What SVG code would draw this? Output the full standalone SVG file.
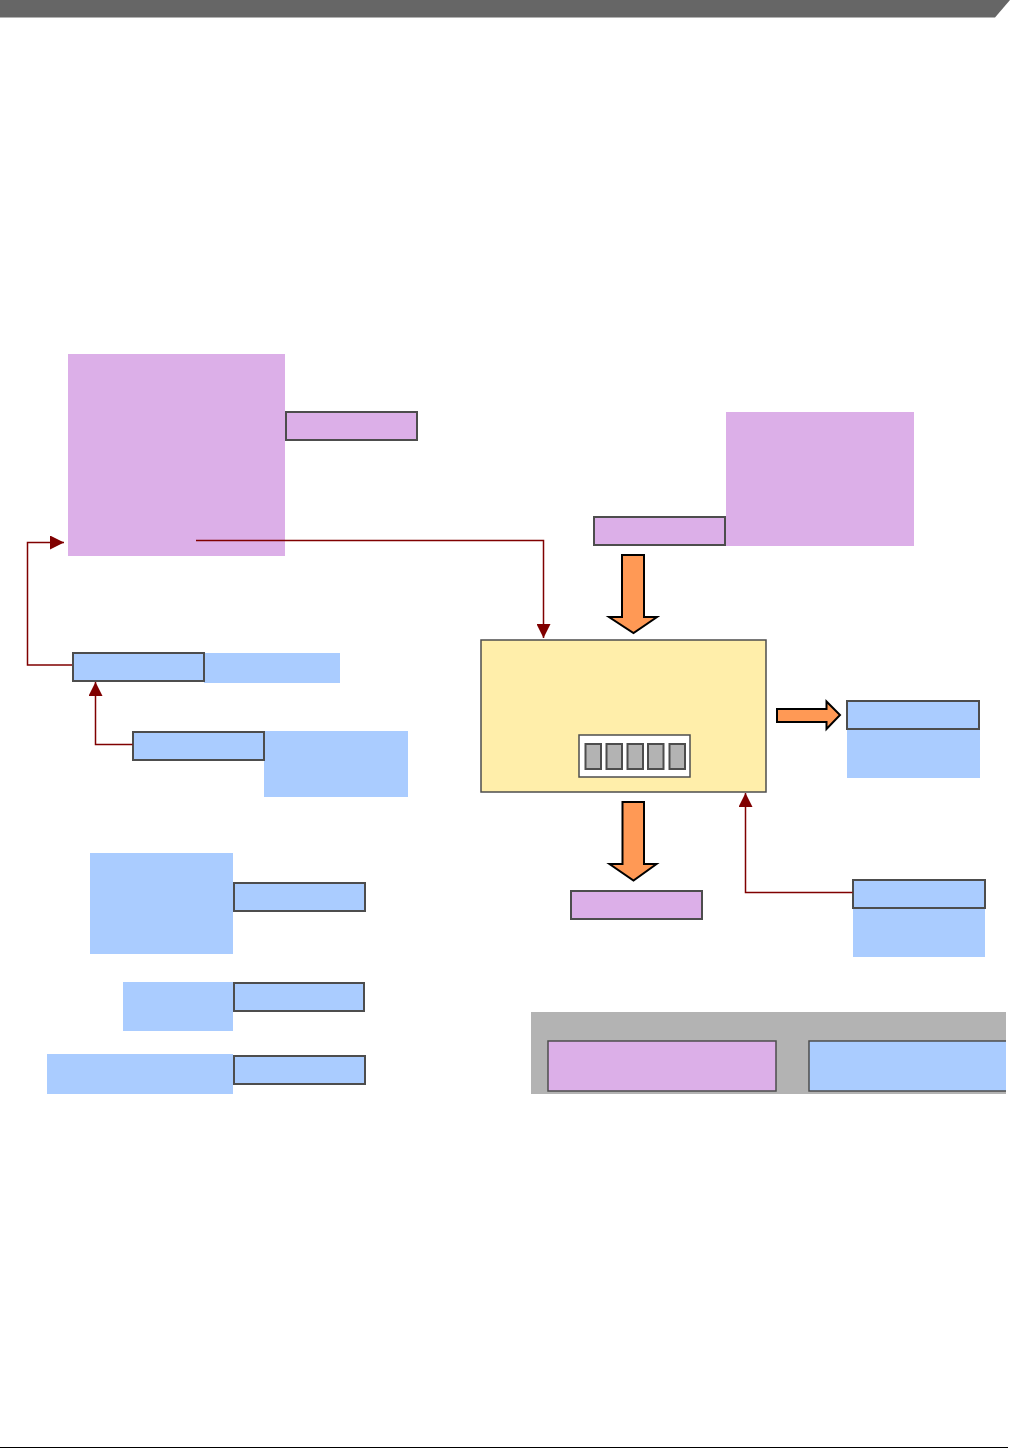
<svg xmlns="http://www.w3.org/2000/svg" width="1010" height="1449" viewBox="0 0 1010 1449">
<style>
.pk{fill:#dcafe8}
.bl{fill:#aaccff}
.bx{stroke:#4d4d4d;stroke-width:2}
.ln{fill:none;stroke:#800000;stroke-width:1.5}
.oa{fill:#ff9955;stroke:#000;stroke-width:2;stroke-linejoin:miter}
.cell{fill:#b3b3b3;stroke:#4d4d4d;stroke-width:2}
</style>
<defs>
<marker id="ah" viewBox="0 0 10 10" refX="10" refY="5" markerWidth="14" markerHeight="14" markerUnits="userSpaceOnUse" orient="auto">
<path d="M0,0 L10,5 L0,10 z" fill="#800000"/>
</marker>
</defs>
<rect width="1010" height="1449" fill="#fff"/>
<polygon points="0,0 1010,0 995,17.5 0,17.5" fill="#666666"/>
<line x1="0" y1="1447.5" x2="1008" y2="1447.5" stroke="#000" stroke-width="1.2"/>

<g id="n-bigpink-left">
<rect class="pk" x="68" y="354" width="217" height="202"/>
<rect class="pk bx" x="286" y="412" width="131" height="28"/>
</g>
<g id="n-bigpink-right">
<rect class="pk" x="726" y="412" width="188" height="134"/>
<rect class="pk bx" x="594" y="517" width="131" height="28"/>
</g>
<g id="n-core">
<rect x="481" y="640" width="285" height="152" fill="#ffeeaa" stroke="#4d4d4d" stroke-width="1.5"/>
<rect x="579" y="735" width="111" height="42" fill="#fff" stroke="#4d4d4d" stroke-width="1.5"/>
<rect class="cell" x="585.5" y="744" width="15.5" height="25"/>
<rect class="cell" x="606.5" y="744" width="15.5" height="25"/>
<rect class="cell" x="627.5" y="744" width="15.5" height="25"/>
<rect class="cell" x="648" y="744" width="15.5" height="25"/>
<rect class="cell" x="669.5" y="744" width="15.5" height="25"/>
</g>
<g id="n-right-out">
<rect class="bl" x="847" y="701" width="133" height="77"/>
<rect class="bl bx" x="847" y="701" width="132" height="28"/>
</g>
<g id="n-right-in">
<rect class="bl" x="853" y="880" width="132" height="77"/>
<rect class="bl bx" x="853" y="880" width="132" height="28"/>
</g>
<g id="n-bottom-pink">
<rect class="pk bx" x="571" y="891" width="131" height="28"/>
</g>
<g id="n-blue1">
<rect class="bl" x="204" y="653" width="136" height="30"/>
<rect class="bl bx" x="73" y="653" width="131" height="28"/>
</g>
<g id="n-blue2">
<rect class="bl" x="264" y="731" width="144" height="66"/>
<rect class="bl bx" x="133" y="732" width="131" height="28"/>
</g>
<g id="n-blue3">
<rect class="bl" x="90" y="853" width="143" height="101"/>
<rect class="bl bx" x="234" y="883" width="131" height="28"/>
</g>
<g id="n-blue4">
<rect class="bl" x="123" y="982" width="110" height="49"/>
<rect class="bl bx" x="234" y="983" width="130" height="28"/>
</g>
<g id="n-blue5">
<rect class="bl" x="47" y="1054" width="186" height="40"/>
<rect class="bl bx" x="234" y="1056" width="131" height="28"/>
</g>
<g id="n-legend">
<rect x="531" y="1012" width="475" height="82" fill="#b3b3b3"/>
<rect class="pk" x="548" y="1041" width="228" height="50" stroke="#4d4d4d" stroke-width="1.5"/>
<path d="M1006,1041 H809 V1091 H1006" class="bl" stroke="#4d4d4d" stroke-width="1.5"/>
</g>

<g id="connectors">
<polyline class="ln" points="196,540.5 543.5,540.5 543.5,638" marker-end="url(#ah)"/>
<polyline class="ln" points="72,665 27.5,665 27.5,542.5 64,542.5" marker-end="url(#ah)"/>
<polyline class="ln" points="132.5,744.5 95.5,744.5 95.5,682" marker-end="url(#ah)"/>
<polyline class="ln" points="852.5,892.5 745.5,892.5 745.5,793" marker-end="url(#ah)"/>
<polygon class="oa" points="622,555 644,555 644,617 657,617 633.5,633 609,617 622,617"/>
<polygon class="oa" points="622.5,802 644,802 644,864 656.5,864 633.5,880.5 609.5,864 622.5,864"/>
<polygon class="oa" points="777,709 826.5,709 826.5,701.5 840,715 826.5,729 826.5,722 777,722"/>
</g>
</svg>
